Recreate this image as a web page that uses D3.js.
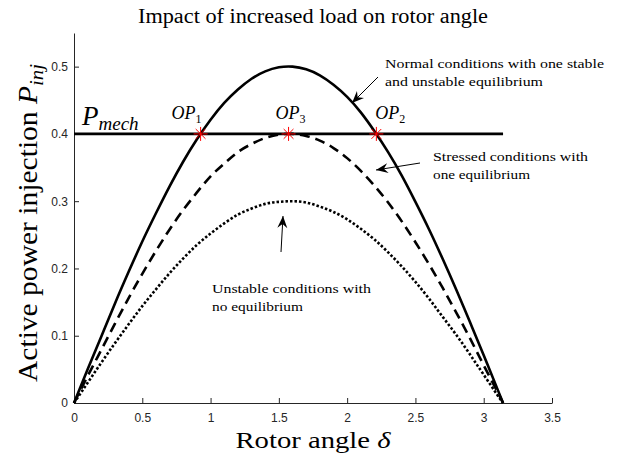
<!DOCTYPE html>
<html>
<head>
<meta charset="utf-8">
<script src="https://cdn.jsdelivr.net/npm/d3@7"></script>
<style>
  html, body { margin: 0; padding: 0; background: #fff; }
  svg { display: block; }
  .tick text { font-family: "Liberation Sans", Arial, sans-serif; font-size: 12px; fill: #262626; }
</style>
</head>
<body>
<svg id="chart" width="628" height="459"></svg>
<script>
// Rotor angle samples (rad)
const delta = [0, 0.1, 0.2, 0.3, 0.4, 0.5, 0.6, 0.7, 0.8, 0.9, 1.0, 1.1, 1.2, 1.3, 1.4, 1.5,
  1.6, 1.7, 1.8, 1.9, 2.0, 2.1, 2.2, 2.3, 2.4, 2.5, 2.6, 2.7, 2.8, 2.9, 3.0, 3.1, 3.1416];

// Active power injection curves
const normalP = [0, 0.050, 0.099, 0.148, 0.195, 0.240, 0.282, 0.322, 0.359, 0.392, 0.421, 0.446, 0.466,
  0.482, 0.493, 0.499, 0.500, 0.496, 0.487, 0.473, 0.455, 0.432, 0.404, 0.373, 0.338, 0.299, 0.258,
  0.214, 0.168, 0.120, 0.071, 0.021, 0];
const stressedP = [0, 0.040, 0.079, 0.118, 0.156, 0.192, 0.226, 0.258, 0.287, 0.313, 0.337, 0.356, 0.373,
  0.385, 0.394, 0.399, 0.400, 0.397, 0.390, 0.379, 0.364, 0.345, 0.323, 0.298, 0.270, 0.239, 0.206,
  0.171, 0.134, 0.096, 0.056, 0.017, 0];
const unstableP = [0, 0.030, 0.060, 0.089, 0.117, 0.144, 0.169, 0.193, 0.215, 0.235, 0.252, 0.267, 0.280,
  0.289, 0.296, 0.299, 0.300, 0.298, 0.292, 0.284, 0.273, 0.259, 0.243, 0.224, 0.203, 0.180, 0.155,
  0.128, 0.101, 0.072, 0.042, 0.012, 0];

// Mechanical power level
const pMech = 0.4;
const pMechSpan = [0, 3.1416];

// Operating points
const opNames = ["1", "2", "3"];
const opDelta = [0.927, 2.214, 1.571];
const opP = [0.4, 0.4, 0.4];

// Axis ticks
const xTicks = [0, 0.5, 1, 1.5, 2, 2.5, 3, 3.5];
const xTickLabels = ["0", "0.5", "1", "1.5", "2", "2.5", "3", "3.5"];
const yTicks = [0, 0.1, 0.2, 0.3, 0.4, 0.5];
const yTickLabels = ["0", "0.1", "0.2", "0.3", "0.4", "0.5"];

const SERIF = '"Liberation Serif", "DejaVu Serif", serif';
const svg = d3.select("#chart");
const margin = { left: 74, right: 76, top: 33, bottom: 56 };
const W = 628, H = 459;

const x = d3.scaleLinear().domain([0, 3.5]).range([margin.left, W - margin.right]);
const y = d3.scaleLinear().domain([0, 0.55]).range([H - margin.bottom, margin.top]);

const axisColor = "#262626";

// Axes with inward ticks
const xAxis = svg.append("g")
  .attr("transform", `translate(0,${y(0)})`)
  .call(d3.axisBottom(x).tickValues(xTicks).tickSizeInner(-5).tickSizeOuter(0)
    .tickFormat((d, i) => xTickLabels[i]));
xAxis.selectAll("text").attr("dy", null).attr("y", 19);

const yAxis = svg.append("g")
  .attr("transform", `translate(${x(0)},0)`)
  .call(d3.axisLeft(y).tickValues(yTicks).tickSizeInner(-5).tickSizeOuter(0)
    .tickFormat((d, i) => yTickLabels[i]));
yAxis.selectAll("text").attr("x", -6);

[xAxis, yAxis].forEach(g => {
  g.select(".domain").attr("stroke", axisColor).attr("stroke-width", 1);
  g.selectAll(".tick line").attr("stroke", axisColor).attr("stroke-width", 1);
});

// Curves
const line = d3.line().x(d => x(d[0])).y(d => y(d[1])).curve(d3.curveNatural);
const series = [
  { values: normalP, dash: null },
  { values: stressedP, dash: "10,6" },
  { values: unstableP, dash: "2.5,2" }
];
series.forEach(s => {
  svg.append("path")
    .datum(delta.map((d, i) => [d, s.values[i]]))
    .attr("fill", "none")
    .attr("stroke", "#000")
    .attr("stroke-width", 2.6)
    .attr("stroke-dasharray", s.dash)
    .attr("d", line);
});

// P_mech line
svg.append("line")
  .attr("x1", x(pMechSpan[0])).attr("x2", x(pMechSpan[1]))
  .attr("y1", y(pMech)).attr("y2", y(pMech))
  .attr("stroke", "#000").attr("stroke-width", 2.6);

// Operating point markers (asterisks)
const star = svg.append("g").selectAll("g").data(opDelta).join("g")
  .attr("transform", (d, i) => `translate(${x(d)},${y(opP[i])})`);
const r = 7;
[[-r, 0, r, 0], [0, -r, 0, r], [-r * 0.7, -r * 0.7, r * 0.7, r * 0.7], [-r * 0.7, r * 0.7, r * 0.7, -r * 0.7]]
  .forEach(([x1, y1, x2, y2]) => {
    star.append("line").attr("x1", x1).attr("y1", y1).attr("x2", x2).attr("y2", y2)
      .attr("stroke", "#ff0000").attr("stroke-width", 1);
  });

// OP labels
const opLabelDx = [-14, 14, 2];
svg.append("g").selectAll("text").data(opDelta).join("text")
  .attr("x", (d, i) => x(d) + opLabelDx[i])
  .attr("y", (d, i) => y(opP[i]) - 15)
  .attr("text-anchor", "middle")
  .style("font-family", SERIF)
  .style("font-size", "18px").style("font-style", "italic")
  .each(function (d, i) {
    const t = d3.select(this);
    t.append("tspan").text("OP");
    t.append("tspan").attr("dy", 4).style("font-size", "12px").style("font-style", "normal").text(opNames[i]);
  });

// P_mech label
const pm = svg.append("text")
  .attr("x", 82).attr("y", y(pMech) - 9)
  .style("font-family", SERIF)
  .style("font-size", "27px").style("font-style", "italic");
pm.append("tspan").text("P");
pm.append("tspan").attr("dy", 5).style("font-size", "19px").text("mech");

// Title
svg.append("text")
  .attr("x", (x(0) + x(3.5)) / 2).attr("y", 23)
  .attr("text-anchor", "middle")
  .style("font-family", SERIF).style("font-size", "20px")
  .attr("textLength", 350).attr("lengthAdjust", "spacingAndGlyphs")
  .text("Impact of increased load on rotor angle");

// Axis labels
const xl = svg.append("text")
  .attr("x", (x(0) + x(3.5)) / 2).attr("y", 448)
  .attr("text-anchor", "middle")
  .style("font-family", SERIF).style("font-size", "24px")
  .attr("textLength", 155).attr("lengthAdjust", "spacingAndGlyphs");
xl.append("tspan").text("Rotor angle ");
xl.append("tspan").style("font-style", "italic").text("δ");

const yl = svg.append("text")
  .attr("transform", `translate(37,${(y(0) + y(0.55)) / 2 + 5}) rotate(-90)`)
  .attr("text-anchor", "middle")
  .style("font-family", SERIF).style("font-size", "27px")
  .attr("textLength", 318).attr("lengthAdjust", "spacingAndGlyphs");
yl.append("tspan").text("Active power injection ");
yl.append("tspan").style("font-style", "italic").text("P");
yl.append("tspan").attr("dy", 6).style("font-style", "italic").style("font-size", "19px").text("inj");

// Annotations with arrows
const annots = [
  { lines: ["Normal conditions with one stable", "and unstable equilibrium"], widths: [219, 158],
    tx: 385, ty: 68, from: [378, 77], to: [352, 103] },
  { lines: ["Stressed conditions with", "one equilibrium"], widths: [155, 97],
    tx: 433, ty: 161, from: [420, 163], to: [376, 170] },
  { lines: ["Unstable conditions with", "no equilibrium"], widths: [159, 91],
    tx: 212, ty: 293, from: [281, 252], to: [283, 216] }
];
annots.forEach(a => {
  a.lines.forEach((s, i) => svg.append("text")
    .attr("x", a.tx).attr("y", a.ty + i * 17.5)
    .style("font-family", SERIF).style("font-size", "13px")
    .attr("textLength", a.widths[i]).attr("lengthAdjust", "spacingAndGlyphs")
    .text(s));
  const [x1, y1] = a.from, [x2, y2] = a.to;
  svg.append("line").attr("x1", x1).attr("y1", y1).attr("x2", x2).attr("y2", y2)
    .attr("stroke", "#000").attr("stroke-width", 1);
  const ang = Math.atan2(y2 - y1, x2 - x1);
  const L = 12, Wd = 5, back = 8;
  const bx = x2 - L * Math.cos(ang), by = y2 - L * Math.sin(ang);
  const ix = x2 - back * Math.cos(ang), iy = y2 - back * Math.sin(ang);
  const px = -Math.sin(ang) * Wd, py = Math.cos(ang) * Wd;
  svg.append("path")
    .attr("d", `M${x2},${y2}L${bx + px},${by + py}L${ix},${iy}L${bx - px},${by - py}Z`)
    .attr("fill", "#000");
});
</script>
</body>
</html>
